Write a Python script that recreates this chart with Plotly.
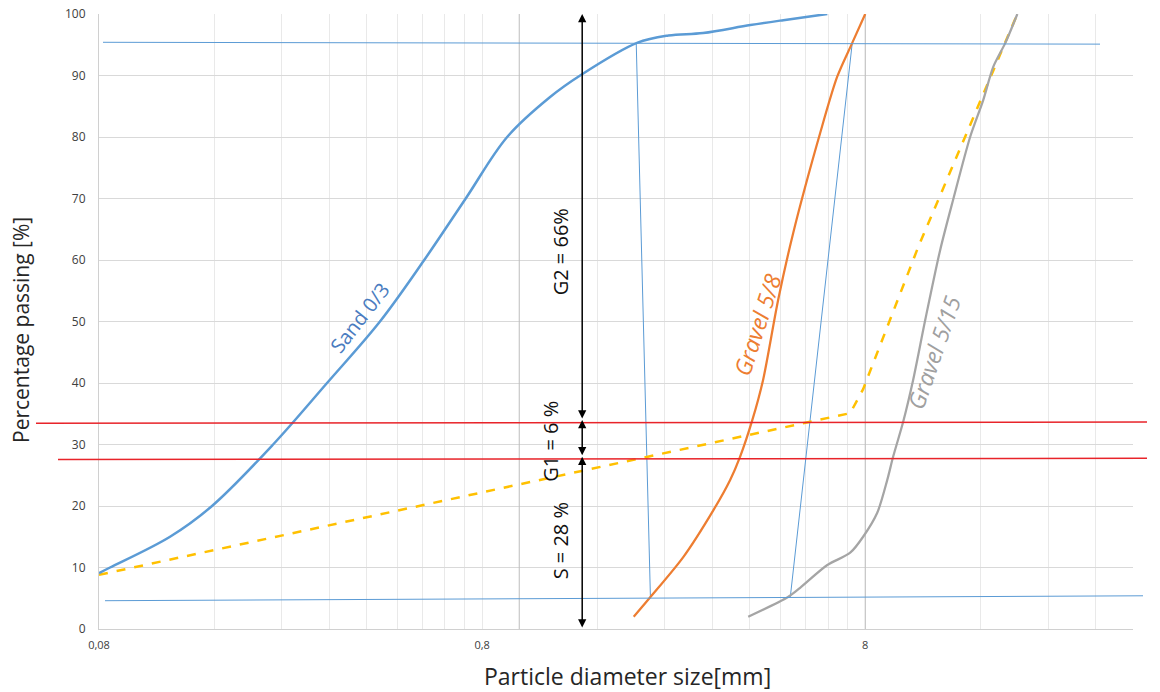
import math
import plotly.graph_objects as go

# ---------------- data ----------------
sand_mm = [0.08, 0.0855, 0.1226, 0.1578, 0.2278, 0.315, 0.433, 0.565, 0.725, 0.93,
           1.204, 1.442, 2.03, 2.45, 3.02, 4.01, 4.89, 6.37]
sand_pct = [9.1, 10.0, 15.0, 20.0, 30.0, 40.0, 50.0, 60.0, 70.0, 80.0,
            86.5, 90.0, 95.3, 96.5, 96.9, 98.2, 99.0, 100.0]

g58_mm = [1.99, 2.20, 2.68, 3.21, 3.55, 3.77, 4.06, 4.33, 4.74, 5.19, 6.10, 6.76, 7.40, 8.0]
g58_pct = [2.0, 5.2, 11.7, 19.3, 24.2, 28.0, 34.0, 40.5, 53.5, 64.4, 80.6, 89.8, 95.3, 100.0]

g515_mm = [3.96, 5.03, 5.41, 6.37, 7.31, 7.90, 8.60, 9.13, 9.46, 10.05, 10.67, 11.47,
           12.55, 13.57, 15.03, 16.26, 17.27, 18.57, 19.96]
g515_pct = [2.0, 5.2, 6.7, 10.4, 12.4, 15.0, 18.9, 24.2, 28.0, 33.7, 40.5, 50.2,
            61.6, 69.8, 80.0, 86.0, 91.4, 95.3, 100.0]

mix_mm = [0.08, 7.31, 7.90, 11.0, 19.96]
mix_pct = [8.8, 35.1, 39.0, 62.1, 100.0]

# construction lines (mm, %)
guide_a_mm = [2.02, 2.20]
guide_a_pct = [95.3, 5.2]
guide_b_mm = [7.40, 5.10]
guide_b_pct = [95.3, 5.2]

# horizontal levels (%)
top_level = [95.4, 95.1]
bottom_level = [4.6, 5.4]
red_g1_top = [33.45, 33.65]
red_s_top = [27.55, 27.75]

# split values
split_x_mm = 1.46
s_pct, g1_pct, g2_pct = 28, 6, 66

x_tick_vals = [0.08, 0.8, 8]
x_tick_text = ["0,08", "0,8", "8"]
y_tick_vals = list(range(0, 101, 10))

x_min, x_max = 0.08, 40

# ---------------- figure ----------------
fig = go.Figure()

minor_vals = []
for dec in [0.08, 0.8, 8]:
    for k in range(2, 10):
        v = round(dec * k, 4)
        if v <= x_max:
            minor_vals.append(v)
minor_vals += [0.8, 8, 40]

# darker vertical reference lines
for xv in [1.0, 8.0]:
    fig.add_trace(go.Scatter(x=[xv, xv], y=[0, 100], mode="lines",
                             line=dict(color="#BDBDBD", width=1),
                             hoverinfo="skip", showlegend=False))

BLUE = "#5B9BD5"
fig.add_trace(go.Scatter(x=guide_a_mm, y=guide_a_pct, mode="lines",
                         line=dict(color=BLUE, width=1), showlegend=False))
fig.add_trace(go.Scatter(x=guide_b_mm, y=guide_b_pct, mode="lines",
                         line=dict(color=BLUE, width=1), showlegend=False))

fig.add_trace(go.Scatter(x=mix_mm, y=mix_pct, mode="lines", name="Mix",
                         line=dict(color="#FFC000", width=2.5, dash="dash"),
                         showlegend=False))
fig.add_trace(go.Scatter(x=sand_mm, y=sand_pct, mode="lines", name="Sand 0/3",
                         line=dict(color=BLUE, width=2.5, shape="spline", smoothing=1.0),
                         showlegend=False))
fig.add_trace(go.Scatter(x=g58_mm, y=g58_pct, mode="lines", name="Gravel 5/8",
                         line=dict(color="#ED7D31", width=2.25, shape="spline", smoothing=0.8),
                         showlegend=False))
fig.add_trace(go.Scatter(x=g515_mm, y=g515_pct, mode="lines", name="Gravel 5/15",
                         line=dict(color="#A5A5A5", width=2.25, shape="spline", smoothing=0.8),
                         showlegend=False))

# plot area at x 99..1133, y 14..629 (body margin is removed by post_script)
PL, PT, PW, PH = 99, 14, 1034, 615
L = PL
T = PT
R = 1160 - L - PW
B = 692 - T - PH

def px(xpix):
    return (xpix - PL) / PW

def py(ypix):
    return (PT + PH - ypix) / PH

shapes = [
    dict(type="line", xref="paper", yref="y", x0=px(103), x1=px(1100),
         y0=top_level[0], y1=top_level[1], line=dict(color=BLUE, width=1)),
    dict(type="line", xref="paper", yref="y", x0=px(105), x1=px(1143),
         y0=bottom_level[0], y1=bottom_level[1], line=dict(color=BLUE, width=1)),
    dict(type="line", xref="paper", yref="y", x0=px(36), x1=px(1147),
         y0=red_g1_top[0], y1=red_g1_top[1], line=dict(color="#E8242A", width=1.5)),
    dict(type="line", xref="paper", yref="y", x0=px(58), x1=px(1147),
         y0=red_s_top[0], y1=red_s_top[1], line=dict(color="#E8242A", width=1.5)),
]

lx = math.log10(split_x_mm)
y_s = s_pct
y_g1 = s_pct + g1_pct
y_g2 = 100

annotations = []
# arrows (double headed)
for (ya, yb) in [(y_g1, y_g2), (y_s, y_g1), (0, y_s)]:
    annotations.append(dict(x=lx, y=yb, ax=lx, ay=ya, xref="x", yref="y",
                            axref="x", ayref="y", text="", showarrow=True,
                            arrowhead=2, startarrowhead=2, arrowside="end+start",
                            arrowsize=1.1, arrowwidth=1.5, arrowcolor="#000000"))

txt_font = dict(family="Open Sans, Liberation Sans, sans-serif", size=20, color="#111111")
annotations += [
    dict(x=math.log10(1.28), y=61.3, xref="x", yref="y", text=f"G2 = {g2_pct}%",
         textangle=-90, showarrow=False, font=txt_font),
    dict(x=math.log10(1.21), y=30.6, xref="x", yref="y", text=f"G1 = {g1_pct} %",
         textangle=-90, showarrow=False, font=txt_font),
    dict(x=math.log10(1.28), y=14.3, xref="x", yref="y", text=f"S = {s_pct} %",
         textangle=-90, showarrow=False, font=txt_font),
    dict(x=math.log10(0.384), y=50.6, xref="x", yref="y", text="Sand 0/3",
         textangle=-52, showarrow=False,
         font=dict(family="Open Sans, sans-serif", size=20, color="#4A7CC0")),
    dict(x=math.log10(4.18), y=49.4, xref="x", yref="y", text="<i>Gravel 5/8</i>",
         textangle=-72, showarrow=False,
         font=dict(family="Open Sans, sans-serif", size=23, color="#ED7D31")),
    dict(x=math.log10(12.1), y=45.0, xref="x", yref="y", text="<i>Gravel 5/15</i>",
         textangle=-71, showarrow=False,
         font=dict(family="Open Sans, sans-serif", size=23, color="#A0A0A0")),
    # axis titles
    dict(x=px(627), y=py(676), xref="paper", yref="paper",
         text="Particle diameter size[mm]", showarrow=False,
         xanchor="center", yanchor="middle",
         font=dict(family="Open Sans, sans-serif", size=23, color="#262626")),
    dict(x=px(21), y=py(330), xref="paper", yref="paper",
         text="Percentage passing [%]", showarrow=False, textangle=-90,
         xanchor="center", yanchor="middle",
         font=dict(family="Open Sans, sans-serif", size=21, color="#262626")),
]

fig.update_layout(
    width=1160, height=692,
    margin=dict(l=L, r=R, t=T, b=B, autoexpand=False),
    paper_bgcolor="white", plot_bgcolor="white",
    shapes=shapes, annotations=annotations,
    font=dict(family="Open Sans, Liberation Sans, sans-serif"),
)

fig.update_xaxes(
    type="log", range=[math.log10(x_min), math.log10(x_max)],
    tickvals=x_tick_vals, ticktext=x_tick_text,
    tickfont=dict(size=11, color="#404040"),
    ticks="outside", ticklen=6, tickcolor="rgba(0,0,0,0)",
    ticklabeloverflow="allow",
    showgrid=False, zeroline=False, automargin=False,
    showline=True, linecolor="#D0D0D0", linewidth=1,
    minor=dict(tickvals=minor_vals, showgrid=True, gridcolor="#E9E9E9",
               gridwidth=1, ticks=""),
)
fig.update_yaxes(
    range=[0, 100], tickvals=y_tick_vals,
    tickfont=dict(size=12, color="#404040"),
    ticks="outside", ticklen=10, tickcolor="rgba(0,0,0,0)",
    ticklabeloverflow="allow",
    showgrid=True, gridcolor="#D9D9D9", gridwidth=1, zeroline=False, automargin=False,
    showline=True, linecolor="#D0D0D0", linewidth=1,
)

fig.write_html("out.html",
               config={"displayModeBar": False},
               post_script="document.body.style.margin='0';document.body.style.padding='0';")
